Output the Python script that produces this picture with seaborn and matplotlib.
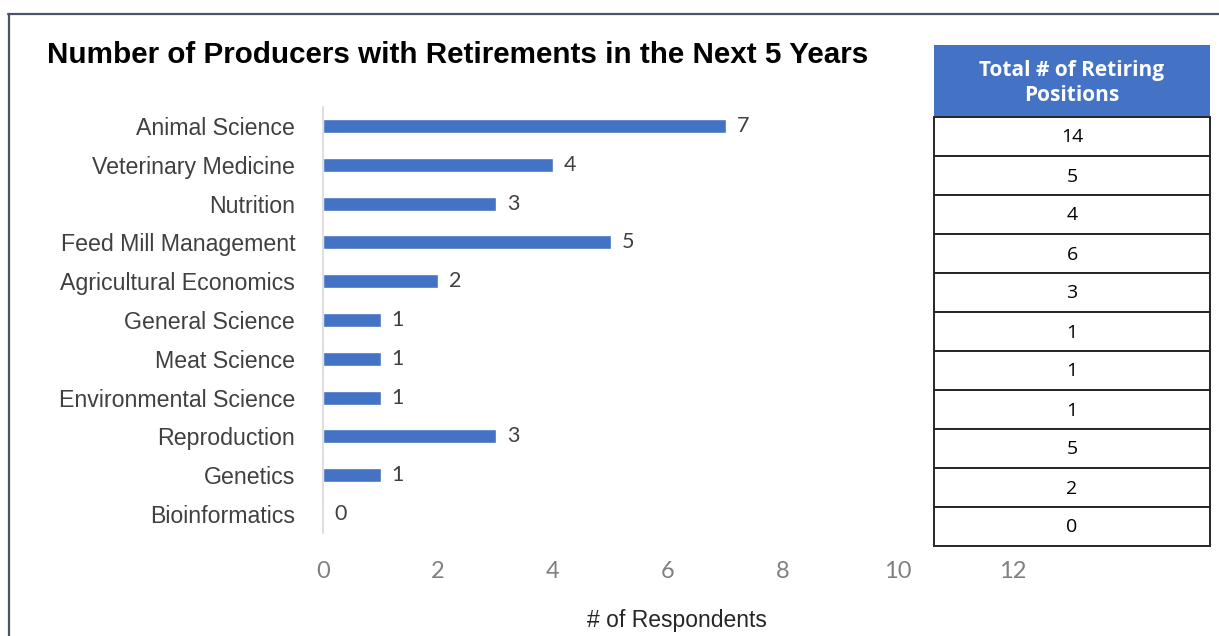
import matplotlib
matplotlib.use("Agg")
import matplotlib.pyplot as plt
import seaborn as sns
import pandas as pd
from matplotlib.patches import Rectangle
from matplotlib.lines import Line2D

# Survey data
categories = [
    "Animal Science", "Veterinary Medicine", "Nutrition", "Feed Mill Management",
    "Agricultural Economics", "General Science", "Meat Science",
    "Environmental Science", "Reproduction", "Genetics", "Bioinformatics",
]
respondents = [7, 4, 3, 5, 2, 1, 1, 1, 3, 1, 0]
retiring_positions = [14, 5, 4, 6, 3, 1, 1, 1, 5, 2, 0]
x_ticks = [0, 2, 4, 6, 8, 10, 12]

title = "Number of Producers with Retirements in the Next 5 Years"
table_header = "Total # of Retiring\nPositions"
x_label = "# of Respondents"

sns.set_theme(style="white")
plt.rcParams["font.family"] = ["Liberation Sans", "DejaVu Sans"]

W, H = 1219, 636
fig = plt.figure(figsize=(W / 100, H / 100), dpi=100)
fig.patch.set_facecolor("white")

def fx(px):
    return px / W

def fy(py):
    return 1 - py / H

# Main bar axes
x0, x12 = 323, 1013
row_top, row_bot = 126, 514
step = (row_bot - row_top) / (len(categories) - 1)
ax_top = row_top - step / 2
ax_bot = row_bot + step / 2
ax = fig.add_axes([fx(x0), fy(ax_bot), fx(x12 - x0), (ax_bot - ax_top) / H])

df = pd.DataFrame({"category": categories, "respondents": respondents})
sns.barplot(data=df, x="respondents", y="category", orient="h",
            color="#4472C4", saturation=1, width=0.36, ax=ax)

ax.set_xlim(0, 12)
ax.set_ylim(len(categories) - 0.5, -0.5)
ax.set_xticks(x_ticks)
ax.set_xticklabels([str(t) for t in x_ticks], family=["Lato", "DejaVu Sans"],
                   fontsize=17, color="#808080")
ax.tick_params(axis="x", length=0, pad=20)
ax.tick_params(axis="y", length=0, pad=20, labelsize=16.7, labelcolor="#404040")
ax.set_ylabel("")
ax.set_xlabel(x_label, fontsize=16.5, color="#262626")
ax.xaxis.label.set_va("center")
ax.xaxis.set_label_coords((677 - x0) / (x12 - x0), -(621 - ax_bot) / (ax_bot - ax_top))
for side in ["top", "right", "bottom"]:
    ax.spines[side].set_visible(False)
ax.spines["left"].set_color("#D9D9D9")
ax.spines["left"].set_linewidth(1.2)
ax.patch.set_alpha(0)

# Value labels beside each bar
for i, v in enumerate(respondents):
    ax.annotate(str(v), xy=(v, i), xytext=(8, 0), textcoords="offset points",
                va="center", ha="left", fontsize=15.5, color="#404040",
                family=["Lato", "DejaVu Sans"])

# Title
fig.text(fx(47), fy(63), title, ha="left", va="baseline", fontsize=21.3,
         fontweight="bold", family=["Liberation Sans", "DejaVu Sans"], color="#000000")

# Side table of retiring positions
tx0, tx1 = 934, 1210
head_top, head_bot = 45, 117
rows_bot = 546
tab = fig.add_axes([0, 0, 1, 1])
tab.set_xlim(0, W)
tab.set_ylim(H, 0)
tab.axis("off")
tab.patch.set_alpha(0)
tab.add_patch(Rectangle((tx0, head_top), tx1 - tx0, head_bot - head_top,
                        facecolor="#4472C4", edgecolor="none"))
tab.text((tx0 + tx1) / 2, (head_top + head_bot) / 2 + 2, table_header,
         ha="center", va="center", color="white", fontsize=15,
         fontweight="bold", family=["Open Sans", "DejaVu Sans"], linespacing=1.3)
row_h = (rows_bot - head_bot) / len(retiring_positions)
for i, val in enumerate(retiring_positions):
    top = head_bot + i * row_h
    tab.add_patch(Rectangle((tx0, top), tx1 - tx0, row_h, facecolor="white",
                            edgecolor="#262626", linewidth=1.4))
    tab.text((tx0 + tx1) / 2, top + row_h / 2 + 1, str(val), ha="center", va="center",
             fontsize=14, color="#000000", family=["Open Sans", "DejaVu Sans"])

# Outer frame
frame_c = "#4A5568"
fig.add_artist(Line2D([fx(8), 1], [fy(14), fy(14)], color=frame_c, linewidth=1.6))
fig.add_artist(Line2D([fx(9), fx(9)], [fy(14), 0], color=frame_c, linewidth=1.6))

fig.savefig("out.png", dpi=100, facecolor="white")
